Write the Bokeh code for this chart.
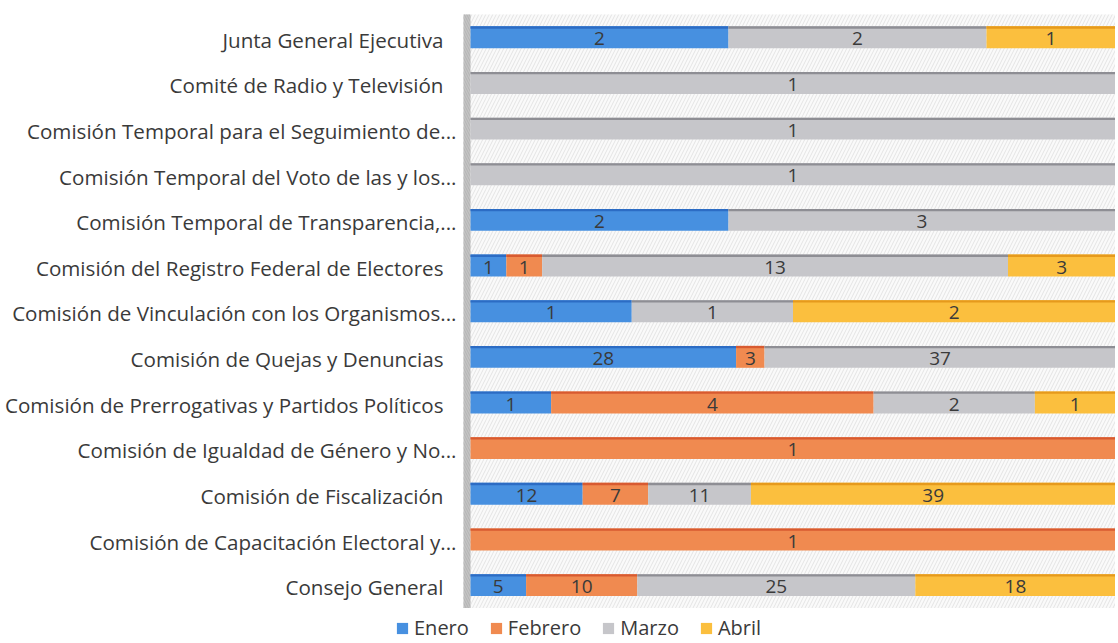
from bokeh.plotting import figure
from bokeh.models import ColumnDataSource, Legend, LegendItem, BoxAnnotation, Range1d
from bokeh.core.properties import value
from bokeh.embed import file_html
from bokeh.resources import INLINE

categories = [
    "Junta General Ejecutiva",
    "Comité de Radio y Televisión",
    "Comisión Temporal para el Seguimiento de...",
    "Comisión Temporal del Voto de las y los...",
    "Comisión Temporal de Transparencia,...",
    "Comisión del Registro Federal de Electores",
    "Comisión de Vinculación con los Organismos...",
    "Comisión de Quejas y Denuncias",
    "Comisión de Prerrogativas y Partidos Políticos",
    "Comisión de Igualdad de Género y No...",
    "Comisión de Fiscalización",
    "Comisión de Capacitación Electoral y...",
    "Consejo General",
]
enero   = [2, 0, 0, 0, 2, 1, 1, 28, 1, 0, 12, 0, 5]
febrero = [0, 0, 0, 0, 0, 1, 0, 3, 4, 1, 7, 1, 10]
marzo   = [2, 1, 1, 1, 3, 13, 1, 37, 2, 0, 11, 0, 25]
abril   = [1, 0, 0, 0, 0, 3, 2, 0, 1, 0, 39, 0, 18]

series_names = ["Enero", "Febrero", "Marzo", "Abril"]
series_values = [enero, febrero, marzo, abril]
colors = ["#4790e0", "#f08a50", "#c6c6ca", "#fbbf3e"]
edge_colors = ["#2c6cc4", "#d85a30", "#8e8e94", "#e69a1c"]

FONT = "Open Sans"
TXT = "#3a3a3a"

# layout (pixels)
W, H = 1115, 641
X0_PX = 470          # where 0 % sits
TOP_PX = 36.8        # centre of first category
CAT_PX = 45.65       # category pitch
n = len(categories)
xs = (W - X0_PX) / 1.0

p = figure(width=W, height=H, output_backend="svg", toolbar_location=None,
           x_range=Range1d(-X0_PX / xs, 1.0),
           y_range=Range1d((H - TOP_PX) / CAT_PX, -TOP_PX / CAT_PX),
           x_axis_location=None, y_axis_location=None,
           min_border_left=0, min_border_right=0, min_border_top=0, min_border_bottom=0)
p.outline_line_color = None
p.xgrid.visible = False
p.ygrid.visible = False
p.background_fill_color = "white"

wall = 7 / xs
p.add_layout(BoxAnnotation(left=-wall, right=1.0, top=-0.5, bottom=n - 0.5,
                           fill_color="#fafafa", fill_alpha=1.0, hatch_pattern="/",
                           hatch_color="#dadada", hatch_scale=7, hatch_weight=0.7,
                           line_color=None, level="underlay"))
p.add_layout(BoxAnnotation(left=-wall, right=0, top=-0.5, bottom=n - 0.5,
                           fill_color="#c4c4c4", fill_alpha=1.0, hatch_pattern="\\",
                           hatch_color="#a8a8a8", hatch_scale=5, hatch_weight=0.6,
                           line_color=None, level="underlay"))

ypos = list(range(n))
totals = [sum(s[i] for s in series_values) for i in range(n)]
cum = [0.0] * n
items = []
for name, vals, col, ecol in zip(series_names, series_values, colors, edge_colors):
    ys, lefts, rights, mids, labels = [], [], [], [], []
    for i, v in enumerate(vals):
        if v <= 0:
            continue
        l = cum[i] / totals[i]
        r = (cum[i] + v) / totals[i]
        ys.append(ypos[i]); lefts.append(l); rights.append(r)
        mids.append((l + r) / 2); labels.append(str(v))
        cum[i] += v
    src = ColumnDataSource(dict(y=ys, ytop=[y - 0.215 for y in ys], ylab=[y + 0.035 for y in ys],
                                left=lefts, right=rights, mid=mids, label=labels))
    rm = p.hbar(y="y", left="left", right="right", height=0.48, source=src,
                fill_color=col, line_color=None)
    p.hbar(y="ytop", left="left", right="right", height=0.05, source=src,
           fill_color=ecol, line_color=None)
    p.text(x="mid", y="ylab", text="label", source=src,
           text_align="center", text_baseline="middle", text_font=value(FONT),
           text_font_size="19px", text_color=TXT)
    items.append(LegendItem(label=name, renderers=[rm]))

# category labels (left); truncated labels use the full label width
label_x = [(-14 if c.endswith("...") else -27) / xs for c in categories]
p.text(x=label_x, y=[y + 0.05 for y in ypos], text=categories,
       text_align="right", text_baseline="middle", text_font=value(FONT),
       text_font_size="20.6px", text_color=TXT)

legend = Legend(items=items, orientation="horizontal", location=(395, 0),
                label_text_font=FONT, label_text_font_size="20px", label_text_color=TXT,
                glyph_width=14, glyph_height=14, label_standoff=5, spacing=20,
                label_height=20, padding=0, margin=0, border_line_color=None,
                background_fill_alpha=0)
p.add_layout(legend, "center")

open("out.html", "w").write(file_html(p, INLINE))
